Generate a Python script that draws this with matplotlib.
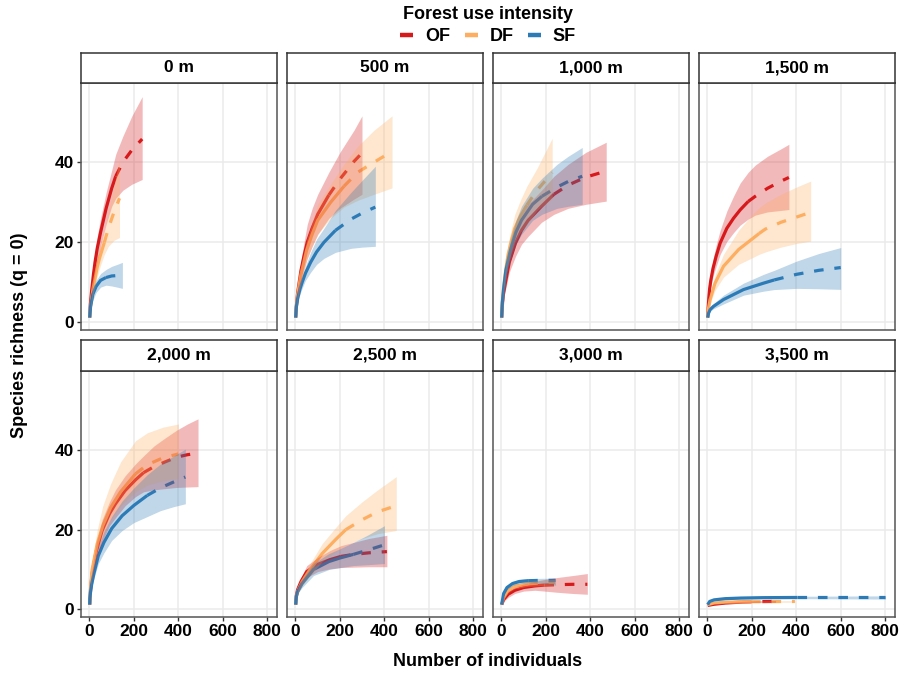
import matplotlib
matplotlib.use("Agg")
import matplotlib.pyplot as plt
from matplotlib.lines import Line2D

plt.rcParams['font.family'] = ['Liberation Sans', 'DejaVu Sans']
plt.rcParams['font.weight'] = 'bold'

elevations = ["0 m", "500 m", "1,000 m", "1,500 m",
              "2,000 m", "2,500 m", "3,000 m", "3,500 m"]
groups = ["OF", "DF", "SF"]
colors = {"OF": "#D7191C", "DF": "#FDAE61", "SF": "#2C7BB6"}

# each curve: n = observed sample size (solid up to n, dashed after),
# x = number of individuals, y = estimated richness, lo/hi = 95% band
curves = {}

# 0 m
curves["0 m", "OF"] = dict(n=118,
    x=[1, 4, 10, 18, 25, 35, 50, 75, 100, 118, 150, 190, 237],
    y=[1.2, 4.5, 8, 12, 15, 18.5, 22.5, 28.5, 33.5, 36.5, 40, 43, 45.8],
    lo=[1.2, 4, 6.5, 10, 12.5, 15.5, 19, 24.5, 29, 31, 33, 34.5, 35.7],
    hi=[1.2, 5, 9.5, 14, 17.5, 21.5, 26, 32.5, 38, 42, 46.5, 51.5, 56.4])
curves["0 m", "DF"] = dict(n=67,
    x=[1, 4, 10, 18, 25, 35, 45, 67, 85, 110, 135],
    y=[1.2, 3.5, 6, 9, 11, 13.8, 16, 20, 23.5, 27.5, 31],
    lo=[1.2, 3, 5, 7.5, 9, 11.5, 13.5, 17, 19, 20.5, 21.2],
    hi=[1.2, 4, 7, 10.5, 13, 16, 18.5, 23, 28, 34, 41])
curves["0 m", "SF"] = dict(n=74,
    x=[1, 5, 15, 30, 50, 74, 100, 125, 148],
    y=[1.2, 4, 7, 9, 10.5, 11.2, 11.6, 11.7, 11.8],
    lo=[1.2, 3, 5.5, 7.5, 8.8, 9.3, 9.1, 8.8, 8.5],
    hi=[1.2, 5, 8.5, 10.5, 12.2, 13.2, 14, 14.5, 15])

# 500 m
curves["500 m", "OF"] = dict(n=150,
    x=[1, 4, 10, 25, 40, 53, 75, 100, 150, 200, 263, 299],
    y=[1.2, 4, 7.5, 13, 17, 20, 23.5, 27, 31.8, 35.8, 40.2, 42.3],
    lo=[1.2, 3.5, 6, 10.5, 13.5, 16, 19, 22, 26, 28.5, 30.8, 32],
    hi=[1.2, 4.5, 9, 15.5, 20.5, 24.5, 28.5, 32, 37.5, 42.5, 48, 51.6])
curves["500 m", "DF"] = dict(n=218,
    x=[1, 4, 10, 25, 50, 75, 100, 158, 218, 280, 353, 434],
    y=[1.2, 4, 7, 12, 18, 22, 25.5, 30, 34, 37.5, 40, 42.7],
    lo=[1.2, 3.5, 6, 10, 15.5, 19, 22, 26, 28.8, 30.5, 32, 33.6],
    hi=[1.2, 4.5, 8, 14, 20.5, 25, 29.5, 34.5, 39.5, 44, 48, 51.6])
curves["500 m", "SF"] = dict(n=180,
    x=[1, 4, 10, 20, 30, 45, 68, 95, 128, 180, 250, 300, 359],
    y=[1.2, 3.8, 6, 8.3, 10, 12.3, 15, 17.6, 20, 23, 25.8, 27.3, 28.8],
    lo=[1.2, 3.3, 5, 7, 8.5, 10.5, 12.5, 14.5, 16, 17.5, 18.5, 18.8, 19],
    hi=[1.2, 4.3, 7, 9.6, 11.5, 14, 17.5, 20.8, 23.5, 28, 32.5, 35.5, 39])

# 1,000 m
curves["1,000 m", "OF"] = dict(n=236,
    x=[1, 5, 10, 18, 35, 63, 90, 120, 180, 236, 300, 380, 471],
    y=[1.2, 5, 7.5, 10, 15, 19.8, 23, 25.5, 29, 32, 34.3, 36.3, 37.8],
    lo=[1.2, 4.5, 6.5, 8, 12.5, 16.5, 19.5, 21.5, 25, 27, 28.5, 29.5, 30.3],
    hi=[1.2, 5.5, 8.5, 12, 17.5, 23.5, 26.5, 29.5, 33, 36.5, 39.5, 42.5, 45])
curves["1,000 m", "DF"] = dict(n=114,
    x=[1, 4, 10, 20, 30, 45, 60, 85, 114, 160, 228],
    y=[1.2, 5, 9, 13.5, 17, 20.5, 23.5, 26.5, 29.3, 33, 37.4],
    lo=[1.2, 4.5, 8, 12, 14.5, 17.5, 20, 22.5, 24.5, 28, 31],
    hi=[1.2, 5.5, 10, 15, 19.5, 23.5, 27, 30.5, 34, 38.5, 46])
curves["1,000 m", "SF"] = dict(n=182,
    x=[1, 4, 10, 20, 40, 65, 90, 140, 182, 250, 300, 363],
    y=[1.2, 5, 8.5, 13, 18, 22.5, 25.5, 29.5, 31.5, 33.8, 35.2, 36.5],
    lo=[1.2, 4.5, 7.5, 11.5, 15.5, 19.5, 22, 25.5, 27, 28.5, 29, 29.5],
    hi=[1.2, 5.5, 9.5, 14.5, 20.5, 25.5, 29, 33.5, 36, 39.5, 41.5, 43.7])

# 1,500 m
curves["1,500 m", "OF"] = dict(n=183,
    x=[1, 3, 6, 10, 15, 25, 39, 57, 87, 117, 147, 183, 215, 270, 335, 366],
    y=[1.2, 3.5, 6, 8.5, 10.5, 13.5, 16.5, 19.8, 23.5, 26, 28.1, 30.2, 31.5, 33.5, 35.4, 36.2],
    lo=[1.2, 3, 5, 7.3, 9, 11.5, 14, 17, 20.2, 22.4, 24.3, 25.8, 26.8, 27.6, 28, 28.2],
    hi=[1.2, 4, 7, 9.8, 12.2, 15.8, 19.3, 23, 27.8, 31.5, 34.8, 37.5, 39.3, 41.5, 43.5, 44.5])
curves["1,500 m", "DF"] = dict(n=232,
    x=[1, 4, 12, 34, 72, 140, 207, 232, 260, 330, 400, 464],
    y=[1.2, 3.3, 5.7, 9.8, 14, 18.2, 21.1, 22.2, 23.3, 25, 26.3, 27.5],
    lo=[1.2, 3, 4.8, 8, 11.3, 14.5, 16.3, 17, 17.6, 18.8, 19.7, 20.3],
    hi=[1.2, 3.7, 6.6, 11.8, 17, 23, 27.3, 28.6, 29.8, 32, 33.8, 35.3])
curves["1,500 m", "SF"] = dict(n=300,
    x=[1, 5, 12, 27, 72, 162, 252, 300, 400, 500, 599],
    y=[1.2, 2.3, 3.2, 4, 5.7, 8.2, 9.8, 10.6, 12, 13, 13.7],
    lo=[1.2, 2, 2.8, 3.4, 4.6, 6.8, 7.8, 8.2, 8.5, 8.4, 8.25],
    hi=[1.2, 2.6, 3.6, 4.7, 6.8, 9.8, 12, 13, 15.3, 17.2, 18.7])

# 2,000 m
curves["2,000 m", "OF"] = dict(n=243,
    x=[1, 5, 12, 30, 57, 90, 117, 160, 207, 243, 290, 340, 393, 440, 488],
    y=[1.2, 5, 9, 14.5, 19.8, 24, 26.5, 29.8, 32.5, 34.3, 35.8, 37, 38.2, 38.8, 39.2],
    lo=[1.2, 4.5, 8, 12.5, 17, 21, 23, 26, 28.3, 29.5, 30, 30.3, 30.6, 30.7, 30.8],
    hi=[1.2, 5.5, 10, 16.5, 22.5, 27, 30, 33.5, 36.5, 38.5, 41, 43, 45, 46.5, 47.8])
curves["2,000 m", "DF"] = dict(n=207,
    x=[1, 5, 12, 35, 60, 95, 140, 207, 260, 330, 400],
    y=[1.2, 5.5, 10, 16.5, 21, 25.5, 29.5, 34, 36.3, 38, 39],
    lo=[1.2, 5, 8.5, 15, 18.5, 22.5, 26, 29.5, 31.2, 32.3, 32.8],
    hi=[1.2, 6, 11.5, 20, 26, 31.5, 37, 42.3, 44.3, 45.7, 46.5])
curves["2,000 m", "SF"] = dict(n=260,
    x=[1, 2, 5, 10, 20, 40, 65, 100, 147, 200, 260, 320, 380, 431],
    y=[1.2, 2.8, 4.4, 6.3, 9, 13.5, 16.8, 20.3, 23.5, 26.1, 28.6, 30.5, 32, 33.2],
    lo=[1.2, 2.5, 3.9, 5.5, 7.8, 11.5, 14.2, 17.3, 19.8, 21.8, 23.3, 24.8, 25.8, 26.5],
    hi=[1.2, 3.1, 4.9, 7.1, 10.2, 15.5, 19.5, 23.3, 27.2, 30.5, 33.8, 36.5, 38.5, 40.2])

# 2,500 m
curves["2,500 m", "OF"] = dict(n=205,
    x=[1, 4, 10, 25, 51, 100, 156, 205, 261, 330, 411],
    y=[1.2, 3.5, 5, 7, 9.5, 11.3, 12.5, 13.3, 13.8, 14.2, 14.5],
    lo=[1.2, 3, 4.2, 6, 8, 9.5, 10.2, 10.5, 10.6, 10.7, 10.7],
    hi=[1.2, 4, 5.8, 8, 11, 13, 14.8, 16, 16.8, 17.8, 18.6])
curves["2,500 m", "DF"] = dict(n=226,
    x=[1, 4, 10, 30, 66, 120, 180, 226, 300, 370, 453],
    y=[1.2, 3.2, 4.5, 7, 10, 14, 17.5, 20, 22.5, 24.5, 26],
    lo=[1.2, 3, 4, 6, 8.5, 12, 14.5, 16, 17.8, 19, 19.8],
    hi=[1.2, 3.5, 5, 8, 11.5, 16.5, 20.5, 23.5, 27, 30, 33.3])
curves["2,500 m", "SF"] = dict(n=260,
    x=[1, 4, 10, 30, 81, 150, 200, 260, 320, 400],
    y=[1.2, 3.2, 4.5, 6.5, 10, 12, 12.9, 13.8, 14.8, 16.2],
    lo=[1.2, 3, 4, 5.5, 8.5, 10, 10.5, 11, 11.2, 11.5],
    hi=[1.2, 3.5, 5, 7.5, 11.5, 14, 15.2, 16.8, 18.5, 21])

# 3,000 m
curves["3,000 m", "OF"] = dict(n=193,
    x=[1, 10, 30, 60, 100, 150, 193, 250, 320, 386],
    y=[1.2, 2.5, 3.8, 4.8, 5.5, 5.9, 6.1, 6.2, 6.3, 6.3],
    lo=[1.2, 2, 3, 4, 4.6, 4.8, 4.6, 4.3, 4, 3.8],
    hi=[1.2, 3, 4.6, 5.6, 6.4, 7, 7.5, 8, 8.5, 9])
curves["3,000 m", "DF"] = dict(n=120,
    x=[1, 10, 30, 60, 120, 180, 240],
    y=[1.2, 3, 4.8, 5.8, 6.4, 6.7, 6.8],
    lo=[1.2, 2.6, 4.2, 5.2, 5.8, 5.9, 5.9],
    hi=[1.2, 3.4, 5.4, 6.4, 7, 7.4, 7.6])
curves["3,000 m", "SF"] = dict(n=120,
    x=[1, 10, 25, 50, 80, 120, 180, 243],
    y=[1.2, 4, 5.5, 6.5, 7, 7.2, 7.3, 7.3],
    lo=[1.2, 3.5, 5, 6, 6.5, 6.7, 6.5, 6.1],
    hi=[1.2, 4.5, 6, 7, 7.5, 7.7, 7.8, 7.8])

# 3,500 m
curves["3,500 m", "OF"] = dict(n=155,
    x=[1, 30, 80, 155, 220, 306],
    y=[1, 1.3, 1.6, 1.85, 1.95, 2],
    lo=[1, 1.2, 1.5, 1.7, 1.75, 1.75],
    hi=[1, 1.4, 1.7, 2, 2.15, 2.25])
curves["3,500 m", "DF"] = dict(n=196,
    x=[1, 30, 80, 150, 196, 300, 393],
    y=[1.2, 1.6, 1.8, 1.9, 1.93, 1.97, 2],
    lo=[1.2, 1.5, 1.7, 1.8, 1.8, 1.8, 1.8],
    hi=[1.2, 1.7, 1.9, 2, 2.05, 2.15, 2.2])
curves["3,500 m", "SF"] = dict(n=404,
    x=[1, 10, 30, 80, 150, 250, 404, 600, 800],
    y=[1.2, 2, 2.4, 2.7, 2.85, 2.95, 3, 3, 3],
    lo=[1.2, 1.9, 2.2, 2.5, 2.65, 2.7, 2.7, 2.65, 2.6],
    hi=[1.2, 2.1, 2.6, 2.9, 3.05, 3.2, 3.3, 3.35, 3.4])

x_ticks = [0, 200, 400, 600, 800]
y_ticks = [0, 20, 40]

W, H = 917, 674
fig = plt.figure(figsize=(W / 100, H / 100), dpi=100)

col_left = [81, 287, 493, 699]
col_w = 196
rows = [(53, 83, 330), (340, 371, 617)]   # strip top, plot top, plot bottom (px)


def px_box(left, top, width, height):
    return [left / W, 1 - (top + height) / H, width / W, height / H]


for i, elev in enumerate(elevations):
    r, c = divmod(i, 4)
    s_top, p_top, p_bot = rows[r]
    ax = fig.add_axes(px_box(col_left[c], p_top, col_w, p_bot - p_top))
    strip = fig.add_axes(px_box(col_left[c], s_top, col_w, p_top - s_top))

    # strip label
    strip.set_xticks([])
    strip.set_yticks([])
    strip.set_facecolor("white")
    for sp in strip.spines.values():
        sp.set_color("#333333")
        sp.set_linewidth(1.1)
    strip.text(0.5, 0.5, elev, ha="center", va="center",
               fontsize=12.5, fontweight="bold", transform=strip.transAxes)

    # lines first, bands drawn over them
    for g in groups:
        d = curves[elev, g]
        xs, ys = d["x"], d["y"]
        k = xs.index(d["n"])
        ax.plot(xs[:k + 1], ys[:k + 1], color=colors[g], lw=2.3,
                solid_capstyle="butt", solid_joinstyle="round", zorder=2)
        ax.plot(xs[k:], ys[k:], color=colors[g], lw=2.3, ls=(0, (3, 3.4)),
                dash_capstyle="butt", zorder=2)
    for g in groups:
        d = curves[elev, g]
        ax.fill_between(d["x"], d["lo"], d["hi"], color=colors[g],
                        alpha=0.3, lw=0, zorder=3)

    ax.set_xlim(-38, 843)
    ax.set_ylim(-1.9, 59.8)
    ax.set_xticks(x_ticks)
    ax.set_yticks(y_ticks)
    ax.grid(True, color="#EBEBEB", lw=1.1, zorder=0)
    ax.set_axisbelow(True)
    for sp in ax.spines.values():
        sp.set_color("#555555")
        sp.set_linewidth(1.1)
    ax.tick_params(length=3, width=1, color="#333333", labelsize=12.5,
                   labelcolor="black", pad=2)
    if c != 0:
        ax.tick_params(axis="y", length=0, labelleft=False)
    if r != 1:
        ax.tick_params(axis="x", length=0, labelbottom=False)
    for lab in ax.get_xticklabels() + ax.get_yticklabels():
        lab.set_fontweight("bold")

fig.text(20 / W, 1 - 335 / H, "Species richness (q = 0)", rotation=90,
         ha="center", va="center", fontsize=13, fontweight="bold")
fig.text(488 / W, 1 - 662 / H, "Number of individuals",
         ha="center", va="center", fontsize=13, fontweight="bold")

# legend centred over the panel area, like ggplot does
handles = [Line2D([], [], color=colors[g], lw=3.2, solid_capstyle="butt")
           for g in groups]
leg = fig.legend(handles, groups, loc="upper center",
                 bbox_to_anchor=(488 / W, 1.01),
                 ncol=3, frameon=False, title="Forest use intensity",
                 prop=dict(weight="bold", size=13),
                 title_fontproperties=dict(weight="bold", size=13),
                 handlelength=0.72, handletextpad=0.65, columnspacing=0.8,
                 borderpad=0.2, labelspacing=0.2)
leg._legend_box.sep = 4

fig.savefig("out.png", dpi=100)
